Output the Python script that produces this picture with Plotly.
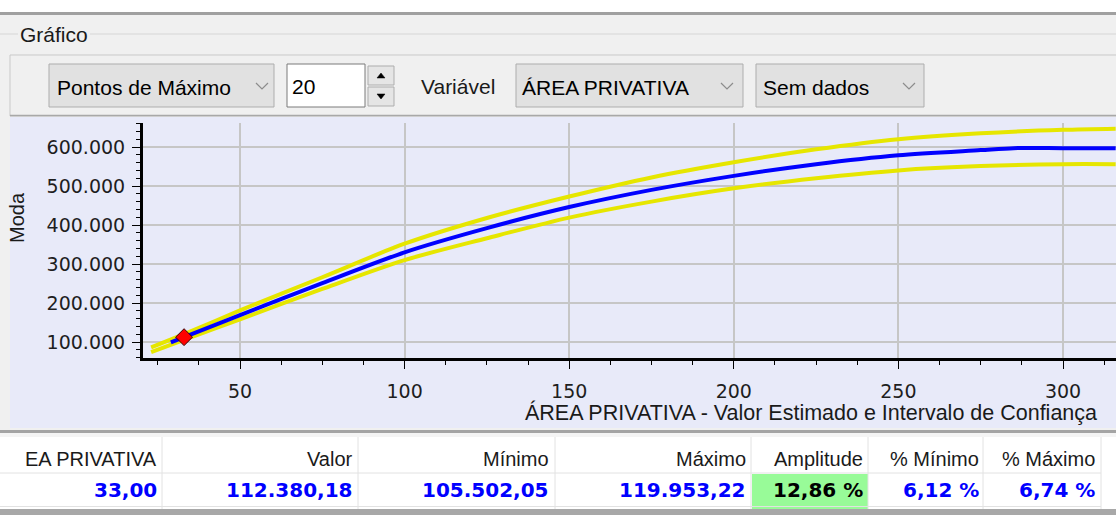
import plotly.graph_objects as go

# ---------------- data ----------------
estimate_x = [29, 33, 50, 75, 100, 125, 150, 175, 200, 225, 250, 275, 285, 300, 316]
estimate_y = [99000, 112380.18, 169000, 251000, 330000, 392000, 446000, 490000, 526000,
              556000, 579000, 592000, 597000, 597000, 597000]
band_x = [23, 33, 50, 75, 100, 125, 150, 175, 200, 225, 250, 275, 300, 316]
upper_y = [86000, 119953.22, 181000, 266000, 352000, 418000, 473000, 522000, 561000,
           594000, 620000, 635000, 644000, 647000]
lower_y = [74000, 105502.05, 158000, 236000, 310000, 366000, 419000, 460000, 494000,
           520000, 540000, 551000, 556000, 556000]
point_x = [33.0]
point_y = [112380.18]

x_ticks = [50, 100, 150, 200, 250, 300]
y_ticks = [100000, 200000, 300000, 400000, 500000, 600000]
y_tick_text = ["100.000", "200.000", "300.000", "400.000", "500.000", "600.000"]

x_title = "ÁREA PRIVATIVA - Valor Estimado e Intervalo de Confiança"
y_title = "Moda"

table_headers = ["EA PRIVATIVA", "Valor", "Mínimo", "Máximo", "Amplitude", "% Mínimo", "% Máximo"]
table_values = ["33,00", "112.380,18", "105.502,05", "119.953,22", "12,86 %", "6,12 %", "6,74 %"]

toolbar_combo1 = "Pontos de Máximo"
toolbar_spin = "20"
toolbar_label = "Variável"
toolbar_combo2 = "ÁREA PRIVATIVA"
toolbar_combo3 = "Sem dados"
group_title = "Gráfico"

# ---------------- geometry helpers (pixel -> paper) ----------------
W, H = 1116, 515
def PX(x):
    return x / W
def PY(y):
    return 1 - y / H

AX_L, AX_T, AX_B = 143, 123, 358
UI_FONT = "Liberation Sans, Arial, sans-serif"
NUM_FONT = "DejaVu Sans, Verdana, sans-serif"
LAV = "#E8EAF9"
UI_BG = "#F0F0F0"

fig = go.Figure()

fig.add_trace(go.Scatter(x=band_x, y=upper_y, mode="lines",
                         line=dict(color="#E6E600", width=4, shape="spline", smoothing=0.8),
                         hoverinfo="skip", showlegend=False))
fig.add_trace(go.Scatter(x=band_x, y=lower_y, mode="lines",
                         line=dict(color="#E6E600", width=4, shape="spline", smoothing=0.8),
                         hoverinfo="skip", showlegend=False))
fig.add_trace(go.Scatter(x=estimate_x, y=estimate_y, mode="lines",
                         line=dict(color="#0000FF", width=4, shape="spline", smoothing=0.8),
                         showlegend=False))
fig.add_trace(go.Scatter(x=point_x, y=point_y, mode="markers",
                         marker=dict(symbol="diamond", size=13, color="#FF0000",
                                     line=dict(color="#3A0000", width=1)),
                         showlegend=False))

shapes = []
def rect(x0, y0, x1, y1, fill, line=None, lw=1, layer="below"):
    shapes.append(dict(type="rect", xref="paper", yref="paper",
                       x0=PX(x0), x1=PX(x1), y0=PY(y1), y1=PY(y0),
                       fillcolor=fill, layer=layer,
                       line=dict(color=line if line else fill, width=lw if line else 0)))
def hline(x0, x1, y, color, w=1, layer="below"):
    shapes.append(dict(type="line", xref="paper", yref="paper", x0=PX(x0), x1=PX(x1),
                       y0=PY(y), y1=PY(y), line=dict(color=color, width=w), layer=layer))
def vline(x, y0, y1, color, w=1, layer="below"):
    shapes.append(dict(type="line", xref="paper", yref="paper", x0=PX(x), x1=PX(x),
                       y0=PY(y0), y1=PY(y1), line=dict(color=color, width=w), layer=layer))
def path(points, color, fill=None, w=1.2):
    d = "M " + " L ".join(f"{PX(a):.6f},{PY(b):.6f}" for a, b in points)
    if fill:
        d += " Z"
    shapes.append(dict(type="path", xref="paper", yref="paper", path=d,
                       fillcolor=fill if fill else "rgba(0,0,0,0)",
                       line=dict(color=color, width=w), layer="above"))
def chevron(cx, cy):
    path([(cx - 6, cy - 3), (cx, cy + 3), (cx + 6, cy - 3)], "#8C8C8C", w=1.2)

# top window strip
rect(0, 0, W, 12, "#FFFFFF")
rect(0, 12, W, 15, "#A0A0A0")
# group box line
hline(0, 18, 34, "#D6D6D6")
hline(90, W, 34, "#D6D6D6")
# toolbar panel
rect(10, 55, W + 5, 116, UI_BG, "#C9C9C9", 1)
hline(10, W, 115.5, "#A8A8A8", 1.5)
# combobox 1
rect(49, 64, 274, 107, "#E1E1E1", "#ADADAD", 1)
chevron(262, 86)
# spin edit
rect(287, 64, 365, 107, "#FFFFFF", "#7A7A7A", 1)
rect(368, 66, 394, 85, "#E5E5E5", "#ADADAD", 1)
rect(368, 87, 394, 106, "#E5E5E5", "#ADADAD", 1)
path([(377, 78), (385, 78), (381, 73)], "#000000", fill="#000000", w=0.5)
path([(377, 94), (385, 94), (381, 99)], "#000000", fill="#000000", w=0.5)
# combobox 2
rect(516, 64, 743, 107, "#E1E1E1", "#ADADAD", 1)
chevron(727, 86)
# combobox 3
rect(756, 64, 924, 107, "#E1E1E1", "#ADADAD", 1)
chevron(909, 86)

# chart panel background
rect(10, 117, W + 5, 428, LAV)

# table area
rect(0, 428, W, 430, UI_BG)
rect(0, 430, W, 433, "#A4A4A4")
rect(0, 433, W, 437, "#F4F4F4")
rect(0, 437, W, 509, "#FFFFFF")
rect(752, 474, 868, 509, "#98FB98")
for cx in [162, 358, 555, 751, 868, 983, 1101]:
    vline(cx, 437, 509, "#E2E2E2")
hline(0, 1101, 473, "#E2E2E2")
hline(0, 1101, 506.5, "#E2E2E2")
rect(0, 509, W, 515, "#A8A8A8")

annotations = []
def text(x, y, s, size=21, color="#000000", anchor="left", font=UI_FONT, angle=0, bold=False):
    annotations.append(dict(x=PX(x), y=PY(y), xref="paper", yref="paper", text=f"<b>{s}</b>" if bold else s,
                            showarrow=False, xanchor=anchor, yanchor="middle", textangle=angle,
                            font=dict(family=font, size=size, color=color), borderpad=0))

text(19, 35, group_title, 21, "#1A1A1A")
text(56, 87, toolbar_combo1, 21)
text(291, 86, toolbar_spin, 21)
text(420, 86, toolbar_label, 21, "#1A1A1A")
text(521, 87, toolbar_combo2, 21)
text(762, 87, toolbar_combo3, 21)

text(17, 218, y_title, 20, "#1A1A1A", anchor="center", angle=-90)
text(1098, 412, x_title, 21.5, "#1A1A1A", anchor="right")

col_right = [158, 354, 550, 747, 864, 980, 1096]
for i, (h, v) in enumerate(zip(table_headers, table_values)):
    text(col_right[i], 459, h, 20, "#1A1A1A", anchor="right")
    text(col_right[i], 490, v, 20, "#000000" if i == 4 else "#0000FF", anchor="right",
         font=NUM_FONT, bold=True)

fig.update_layout(
    width=W, height=H, autosize=False,
    margin=dict(l=0, r=0, t=0, b=0, pad=0),
    paper_bgcolor=UI_BG, plot_bgcolor=LAV,
    shapes=shapes, annotations=annotations,
    showlegend=False,
    xaxis=dict(domain=[PX(AX_L), 1.0], range=[20.53, 316.1], tickvals=x_ticks,
               showgrid=True, gridcolor="#C6C6C6", gridwidth=2, zeroline=False,
               showline=True, linecolor="#000000", linewidth=3,
               ticks="outside", ticklen=8, tickwidth=1, tickcolor="#000000",
               ticklabelstandoff=6,
               tickfont=dict(family=NUM_FONT, size=19, color="#1E1E1E"),
               minor=dict(dtick=12.5, tick0=0, ticks="outside", ticklen=4, tickcolor="#000000",
                          tickwidth=1, showgrid=False)),
    yaxis=dict(domain=[PY(AX_B), PY(AX_T)], range=[58974, 661538], tickvals=y_ticks,
               ticktext=y_tick_text,
               showgrid=True, gridcolor="#C6C6C6", gridwidth=2, zeroline=False,
               showline=True, linecolor="#000000", linewidth=3,
               ticks="outside", ticklen=8, tickwidth=1, tickcolor="#000000",
               ticklabelstandoff=3,
               tickfont=dict(family=NUM_FONT, size=19, color="#1E1E1E"),
               minor=dict(dtick=20000, tick0=0, ticks="outside", ticklen=4, tickcolor="#000000",
                          tickwidth=1, showgrid=False)),
)

fig.write_html("out.html", config={"displayModeBar": False},
               post_script="document.body.style.margin='0';document.body.style.overflow='hidden';")
